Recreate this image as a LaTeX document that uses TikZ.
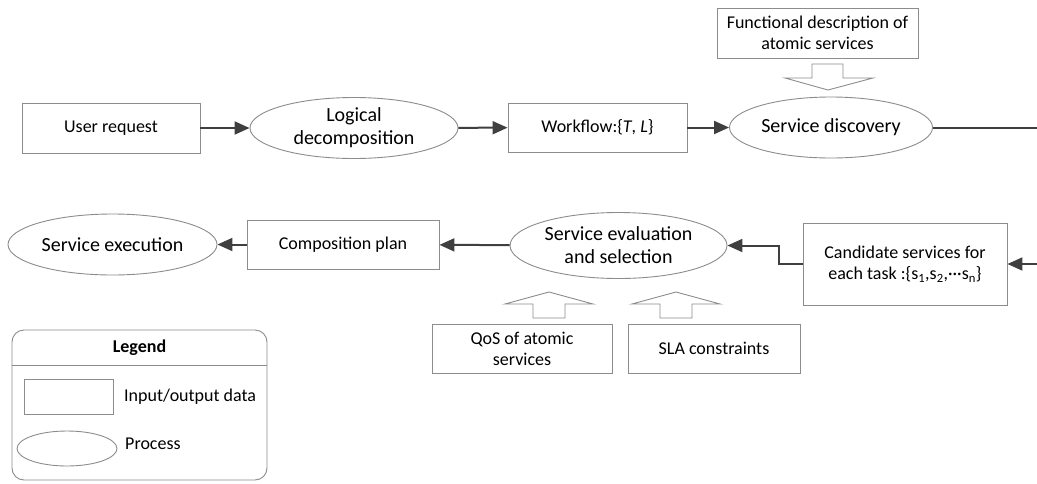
\documentclass[tikz,border=0pt]{standalone}
\usepackage{fontspec}
\setmainfont{Carlito}
\usetikzlibrary{shapes.geometric,arrows.meta}
\definecolor{linegray}{HTML}{3F3F3F}
\definecolor{boxgray}{HTML}{8C8C8C}
\tikzset{
  databox/.style={draw=boxgray,line width=0.9pt,fill=white,align=center,inner sep=0pt,font=\fontsize{18}{21}\selectfont},
  proc/.style={ellipse,draw=boxgray,line width=0.9pt,fill=white,align=center,inner sep=0pt,font=\fontsize{20}{23}\selectfont},
  conn/.style={draw=linegray,line width=2pt,-{Triangle[length=15pt,width=13pt]}},
  plainconn/.style={draw=linegray,line width=2pt},
  hollow/.style={draw=boxgray,line width=0.9pt,fill=white,line join=miter},
  legtext/.style={anchor=west,inner sep=0pt,font=\fontsize{18}{21}\selectfont}
}
\begin{document}
\begin{tikzpicture}[x=1pt,y=-1pt]
\useasboundingbox (0,0) rectangle (1037,483);
% row 1
\node[databox,minimum width=178pt,minimum height=50pt] (user) at (111,128) {User request};
\node[proc,minimum width=208pt,minimum height=61pt] (logic) at (354,128) {Logical\\decomposition};
\node[databox,minimum width=179pt,minimum height=49pt] (wf) at (597.5,127.5) {Workflow:\{\textit{T}, \textit{L}\}};
\node[proc,minimum width=203pt,minimum height=61pt] (sd) at (831,127.5) {Service discovery};
\node[databox,minimum width=201pt,minimum height=50pt] (func) at (817.5,33) {Functional description of\\atomic services};
\draw[hollow] (812,64) -- (843,64) -- (843,78) -- (873,78) -- (828,90) -- (785,78) -- (812,78) -- cycle;
\coordinate (redge) at (1037,127.5);
\draw[conn] (user) -- (logic);
\draw[conn] (logic) -- (wf);
\draw[conn] (wf) -- (sd);
\draw[plainconn] (sd.east) -- (redge);
% row 2
\node[proc,minimum width=209pt,minimum height=61pt] (sexec) at (112.5,244.5) {Service execution};
\node[databox,minimum width=192pt,minimum height=49pt] (comp) at (343,244.5) {Composition plan};
\node[proc,minimum width=217pt,minimum height=66pt] (sev) at (618.5,245.5) {Service evaluation\\and selection};
\node[databox,minimum width=204pt,minimum height=82pt] (cand) at (905,264) {Candidate services for\\each task :\{s\textsubscript{1},s\textsubscript{2},···s\textsubscript{n}\}};
\coordinate (redge2) at (1037,264);
\coordinate (bend1) at (779,264);
\coordinate (bend2) at (779,245.5);
\draw[conn] (comp) -- (sexec);
\draw[conn] (sev) -- (comp);
\draw[conn] (cand.west) -- (bend1) -- (bend2) -- (sev.east);
\draw[conn] (redge2) -- (cand.east);
% inputs to evaluation
\node[databox,minimum width=180pt,minimum height=49pt] (qos) at (522,348.5) {QoS of atomic\\services};
\node[databox,minimum width=172pt,minimum height=49pt] (sla) at (714,348.5) {SLA constraints};
\draw[hollow] (533,318) -- (533,304) -- (505,304) -- (549,292) -- (593,304) -- (565,304) -- (565,318) -- cycle;
\draw[hollow] (660,318) -- (660,304) -- (632,304) -- (676,292) -- (720,304) -- (692,304) -- (692,318) -- cycle;
% legend
\draw[draw=boxgray,line width=0.9pt,rounded corners=12pt] (12,330) rectangle (267,480);
\coordinate (sepL) at (12,365);
\coordinate (sepR) at (267,365);
\draw[draw=boxgray,line width=0.9pt] (sepL) -- (sepR);
\node[font=\fontsize{18}{21}\selectfont\bfseries,inner sep=0pt] (legtitle) at (139.5,347.5) {Legend};
\node[draw=boxgray,line width=0.9pt,minimum width=89pt,minimum height=35pt,inner sep=0pt] (legbox) at (68.5,396.5) {};
\node[legtext] (legdata) at (124,397) {Input/output data};
\node[ellipse,draw=boxgray,line width=0.9pt,minimum width=100pt,minimum height=35pt,inner sep=0pt] (legell) at (67,448.5) {};
\node[legtext] (legproc) at (125,444) {Process};
\end{tikzpicture}
\end{document}
